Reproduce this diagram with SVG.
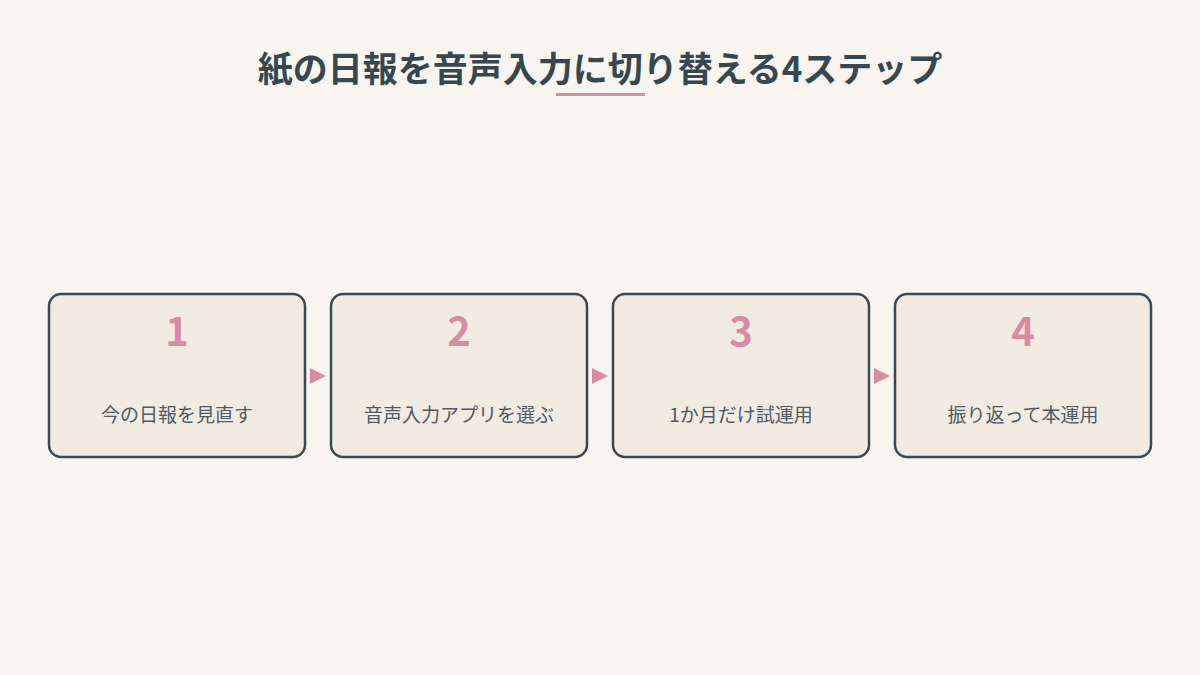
<svg xmlns="http://www.w3.org/2000/svg" width="1200" height="675" viewBox="0 0 1200 675">
<style>
.box{fill:#f1ebe2;stroke:#3b4a52;stroke-width:2.5}
.num{font-family:"Noto Sans CJK JP","Noto Sans",sans-serif;font-weight:700;font-size:40px;fill:#d98ba2;text-anchor:middle;dominant-baseline:central}
.lbl{font-family:"Noto Sans CJK JP",sans-serif;font-size:19px;fill:#505a60;text-anchor:middle;dominant-baseline:central}
.title{font-family:"Noto Sans CJK JP",sans-serif;font-weight:700;font-size:35px;fill:#37474f;text-anchor:middle;dominant-baseline:central}
.arr{fill:#d98ba2}
</style>
<rect width="1200" height="675" fill="#f9f6f1"/>
<g id="title">
<text class="title" x="600" y="66">紙の日報を音声入力に切り替える4ステップ</text>
<rect x="556" y="93" width="89" height="3" fill="#d98ba2"/>
</g>
<g id="step1">
<rect class="box" x="49" y="294" width="256" height="163" rx="12"/>
<text class="num" x="177" y="329">1</text>
<text class="lbl" x="177" y="413">今の日報を見直す</text>
</g>
<g id="step2">
<rect class="box" x="331" y="294" width="256" height="163" rx="12"/>
<text class="num" x="459" y="329">2</text>
<text class="lbl" x="459" y="413">音声入力アプリを選ぶ</text>
</g>
<g id="step3">
<rect class="box" x="613" y="294" width="256" height="163" rx="12"/>
<text class="num" x="741" y="329">3</text>
<text class="lbl" x="741" y="413">1か月だけ試運用</text>
</g>
<g id="step4">
<rect class="box" x="895" y="294" width="256" height="163" rx="12"/>
<text class="num" x="1023" y="329">4</text>
<text class="lbl" x="1023" y="413">振り返って本運用</text>
</g>
<g id="connectors">
<polygon class="arr" points="310,368 326,376 310,384"/>
<polygon class="arr" points="592,368 608,376 592,384"/>
<polygon class="arr" points="874,368 890,376 874,384"/>
</g>
</svg>
